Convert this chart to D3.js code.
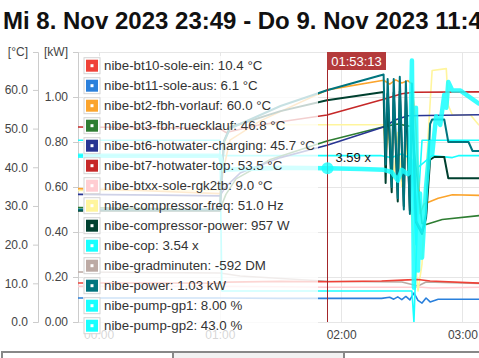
<!DOCTYPE html>
<html>
<head>
<meta charset="utf-8">
<script src="https://cdn.jsdelivr.net/npm/d3@7"></script>
<style>
body { margin: 0; background: #fff; overflow: hidden; font-family: "Liberation Sans", Arial, Helvetica, sans-serif; }
</style>
</head>
<body>
<script>
// values, [time, value]
const bt10SoleEin = [["23:49",10.1],["00:30",10.1],["01:00",10.0],["01:04",10.3],["01:30",10.5],["01:53",10.4],["02:20",10.6],["02:33",10.9],["02:38",11.0],["02:44",10.6],["03:10",10.0]];
const bt11SoleAus = [["23:49",6.2],["01:00",6.2],["01:30",6.1],["02:20",6.1],["02:24",6.4],["02:26",5.9],["02:28",6.5],["02:30",5.8],["02:32",6.6],["02:34",5.7],["02:36",7.5],["02:38",5.6],["02:40",4.9],["02:42",6.2],["02:44",5.2],["02:48",5.9],["03:10",5.9]];
const bt2Vorlauf = [["23:49",34.5],["00:20",34.0],["01:00",33.2],["01:02",40],["01:05",47],["01:20",52],["01:53",60.0],["02:21",62.5],["02:24",61.5],["02:27",62.6],["02:30",61.8],["02:33",62.4],["02:35",61.5],["02:37",50],["02:39",28],["02:41",30.5],["02:48",32.0],["02:55",32.9],["03:10",32.7]];
const bt3Ruecklauf = [["23:49",29.6],["00:30",29.3],["01:00",29.0],["01:03",33],["01:08",37],["01:25",42],["01:53",46.8],["02:21",50.5],["02:28",51.2],["02:35",50.5],["02:38",35],["02:40",25.5],["02:42",25.2],["02:50",26.5],["03:10",27.6]];
const bt6Charging = [["23:49",33.0],["00:30",32.8],["01:00",32.6],["01:03",35],["01:10",38.5],["01:30",42.5],["01:53",45.7],["02:21",50.4],["02:27",52.3],["02:33",53.3],["03:10",53.6]];
const bt7Top = [["23:49",50.4],["00:30",50.2],["01:00",50.0],["01:03",49.0],["01:20",51.0],["01:53",53.5],["02:21",57.6],["02:30",59.0],["02:36",59.4],["03:10",59.5]];
const btxxRgk2tb = [["23:49",9.2],["01:00",9.2],["01:30",9.1],["01:53",9.0],["02:40",9.0],["02:45",8.8],["03:10",9.0]];
const compFreq = [["23:49",34.0],["01:00",34.0],["01:02",45],["01:05",51.0],["02:21",51.0],["02:22",43],["02:24",50],["02:26",37],["02:28",49],["02:30",35],["02:32",47],["02:34",33],["02:36",20],["02:38",8],["02:40",15],["02:43",48],["02:45",65.0],["02:52",65.5],["02:53",56],["02:55",53.5],["03:04",53.5],["03:08",51.0]];
const compPower = [["23:49",480],["01:00",480],["01:02",780],["01:05",840],["01:30",910],["01:53",957],["02:21",992],["02:22",600],["02:23",985],["02:25",560],["02:26",990],["02:28",520],["02:29",995],["02:31",500],["02:32",990],["02:34",480],["02:35",985],["02:37",430],["02:40",380],["02:42",450],["02:44",700],["02:46",712],["02:51",712],["02:53",620],["03:10",620]];
const cop = [["23:49",3.88],["01:00",3.88],["01:02",3.55],["01:30",3.6],["01:53",3.59],["02:10",3.57],["02:21",3.55],["02:25",3.5],["02:28",3.3],["02:30",3.55],["02:33",3.45],["02:34",3.5],["02:35",6.1],["02:36",0.8],["02:37",5.0],["02:38",1.2],["02:39",3.0],["02:40",1.5],["02:42",3.15],["02:44",4.2],["02:45",3.9],["02:47",4.8],["02:49",4.6],["02:51",5.3],["02:52",5.0],["02:53",5.6],["02:55",5.4],["02:59",5.4],["03:08",5.1]];
const gradMinuten = [["23:49",-500],["01:00",-510],["01:10",-540],["01:53",-592],["02:30",-600],["02:38",-640],["02:42",-600],["03:10",-615]];
const power = [["23:49",0.50],["01:00",0.50],["01:02",0.80],["01:05",0.86],["01:30",0.96],["01:53",1.03],["02:21",1.10],["02:22",0.70],["02:23",1.08],["02:25",0.60],["02:26",1.08],["02:28",0.55],["02:29",1.09],["02:31",0.50],["02:32",1.07],["02:34",0.48],["02:35",1.06],["02:37",0.45],["02:40",0.40],["02:42",0.48],["02:44",0.88],["02:45",0.90],["02:51",0.90],["02:53",0.80],["03:03",0.80],["03:05",0.76],["03:10",0.76]];
const pumpGp1 = [["23:49",47],["01:00",47],["01:01",8],["02:35",8],["02:36",0],["02:38",30],["02:40",47],["03:10",47]];
const pumpGp2 = [["23:49",43],["01:02",43],["01:53",43.0],["02:20",43],["02:25",42.5],["02:30",43.5],["02:35",42],["02:37",20],["02:38",40],["02:45",43],["02:55",42.5],["02:58",43],["03:10",43]];

const seriesNames = ["nibe-bt10-sole-ein","nibe-bt11-sole-aus","nibe-bt2-fbh-vorlauf","nibe-bt3-fbh-ruecklauf","nibe-bt6-hotwater-charging","nibe-bt7-hotwater-top","nibe-btxx-sole-rgk2tb","nibe-compressor-freq","nibe-compressor-power","nibe-cop","nibe-gradminuten","nibe-power","nibe-pump-gp1","nibe-pump-gp2"];
const legendValues = ["10.4 °C","6.1 °C","60.0 °C","46.8 °C","45.7 °C","53.5 °C","9.0 °C","51.0 Hz","957 W","3.54 x","-592 DM","1.03 kW","8.00 %","43.0 %"];
const seriesData = [bt10SoleEin, bt11SoleAus, bt2Vorlauf, bt3Ruecklauf, bt6Charging, bt7Top, btxxRgk2tb, compFreq, compPower, cop, gradMinuten, power, pumpGp1, pumpGp2];
const seriesAxis = ["C","C","C","C","C","C","C","C","W","cop","DM","kW","C","C"];
const colors = ["#ef4238","#2a80dc","#fba42c","#2e7d32","#283593","#c62828","#ffcdd2","#fff59d","#00402f","#18ffff","#bcaaa4","#00757f","#18ffff","#18ffff"];

const tempTicks = [0, 10, 20, 30, 40, 50, 60];
const kwTicks = [0, 0.2, 0.4, 0.6, 0.8, 1.0];
const crossTime = "01:53:13";
const crossCop = 3.59;

const width = 479, height = 358;
const plotTop = 52, plotBottom = 322, plotLeft = 78;

const parseT = s => {
    const p = s.split(":").map(Number);
    return new Date(2023, 10, p[0] >= 12 ? 8 : 9, p[0], p[1], p[2] || 0);
};

const t0 = new Date(2023, 10, 8, 23, 49, 50);
const t1 = new Date(2023, 10, 9, 11, 49, 50);
const x = d3.scaleTime().domain([t0, t1]).range([plotLeft, plotLeft + 12 * 121.3]);
const yScales = {
    C: d3.scaleLinear().domain([0, 69.8]).range([plotBottom, plotTop]),
    kW: d3.scaleLinear().domain([0, 1.2]).range([plotBottom, plotTop]),
    W: d3.scaleLinear().domain([0, 1165]).range([plotBottom, plotTop]),
    cop: d3.scaleLinear().domain([0, 6.3]).range([plotBottom, plotTop]),
    DM: d3.scaleLinear().domain([-1000, 1700]).range([plotBottom, plotTop])
};

const svg = d3.select("body").append("svg")
    .attr("width", width)
    .attr("height", height)
    .style("display", "block");

svg.append("text")
    .attr("x", 3).attr("y", 29)
    .style("font-size", "24px").style("font-weight", "bold").attr("fill", "#111")
    .text("Mi 8. Nov 2023 23:49 - Do 9. Nov 2023 11:49");

// grid
const grid = svg.append("g").attr("stroke", "#e6e6e6").attr("stroke-width", 1);
grid.selectAll("line.h").data(kwTicks.concat([1.2])).join("line")
    .attr("x1", plotLeft).attr("x2", width)
    .attr("y1", d => Math.round(yScales.kW(d)) + 0.5).attr("y2", d => Math.round(yScales.kW(d)) + 0.5);
grid.selectAll("line.v").data(x.ticks(d3.timeHour.every(1))).join("line")
    .attr("y1", plotTop).attr("y2", plotBottom)
    .attr("x1", d => Math.round(x(d)) + 0.5).attr("x2", d => Math.round(x(d)) + 0.5);

// axes
const styleAxis = g => {
    g.select(".domain").attr("stroke", "#ccc");
    g.selectAll(".tick line").attr("stroke", "#ccc");
    g.selectAll("text").attr("fill", "#444").style("font-size", "12px").style("font-family", "inherit");
};
svg.append("g").attr("transform", "translate(38,0)")
    .call(d3.axisLeft(yScales.C).tickValues(tempTicks).tickFormat(d3.format(".1f")).tickSize(5).tickPadding(5))
    .call(styleAxis);
svg.append("g").attr("transform", `translate(${plotLeft},0)`)
    .call(d3.axisLeft(yScales.kW).tickValues(kwTicks).tickFormat(d3.format(".2f")).tickSize(5).tickPadding(5))
    .call(styleAxis);
svg.append("g").attr("transform", `translate(0,${plotBottom})`)
    .call(d3.axisBottom(x).ticks(d3.timeHour.every(1)).tickFormat(d3.timeFormat("%H:%M")).tickSize(0).tickPadding(8.5))
    .call(g => g.select(".domain").remove())
    .call(styleAxis);
svg.append("g").style("font-size", "12px").attr("fill", "#444").attr("text-anchor", "end")
    .selectAll("text").data([["[°C]", 28], ["[kW]", 68]]).join("text")
    .attr("x", d => d[1]).attr("y", plotTop).attr("dy", "0.32em").text(d => d[0]);

// lines
svg.append("clipPath").attr("id", "plot")
    .append("rect").attr("x", plotLeft).attr("y", plotTop).attr("width", width).attr("height", plotBottom - plotTop);

const order = [6, 10, 7, 0, 1, 12, 13, 2, 3, 4, 5, 8, 11, 9];
const lines = svg.append("g").attr("clip-path", "url(#plot)").attr("fill", "none")
    .attr("stroke-linejoin", "round").attr("stroke-linecap", "round");
order.forEach(i => {
    const y = yScales[seriesAxis[i]];
    const line = d3.line().x(d => x(parseT(d[0]))).y(d => y(d[1]));
    lines.append("path")
        .attr("d", line(seriesData[i]))
        .attr("stroke", colors[i])
        .attr("stroke-width", i === 9 ? 4.5 : (i === 8 || i === 11 ? 2 : 1.6))
        .attr("stroke-opacity", i === 9 ? 0.85 : 1);
});

// legend (semi-transparent box over the plot)
const legend = svg.append("g").attr("transform", `translate(${plotLeft + 5},56)`);
legend.append("rect").attr("width", 235).attr("height", 285).attr("fill", "rgba(255,255,255,0.78)");
const row = legend.selectAll("g").data(seriesNames).join("g")
    .attr("transform", (d, i) => `translate(1,${1.7 + 20 * i})`);
row.append("rect").attr("width", 16).attr("height", 16).attr("fill", "#fff").attr("stroke", "#d4d4d4");
row.append("rect").attr("x", 2).attr("y", 2).attr("width", 12).attr("height", 12).attr("fill", (d, i) => colors[i]);
row.append("rect").attr("x", 6.5).attr("y", 6.5).attr("width", 3).attr("height", 3).attr("fill", "#fff");
row.append("text").attr("x", 20).attr("y", 8).attr("dy", "0.35em")
    .style("font-size", "13.3px").attr("fill", "#333")
    .text((d, i) => d + ": " + legendValues[i]);

// crosshair
const cx = Math.round(x(parseT(crossTime))) + 0.5;
svg.append("line").attr("x1", cx).attr("x2", cx).attr("y1", plotTop).attr("y2", plotBottom)
    .attr("stroke", "#a3262a").attr("stroke-width", 1);
svg.append("rect").attr("x", cx - 0.5).attr("y", plotTop).attr("width", 59).attr("height", 18).attr("fill", "#b43a3b");
svg.append("text").attr("x", cx + 29).attr("y", plotTop + 9).attr("dy", "0.35em").attr("text-anchor", "middle")
    .style("font-size", "13px").attr("fill", "#fff").text(crossTime);
svg.append("circle").attr("cx", cx).attr("cy", yScales.cop(crossCop)).attr("r", 6)
    .attr("fill", "#18ffff").attr("fill-opacity", 0.8);
svg.append("text").attr("x", cx + 8).attr("y", yScales.cop(crossCop) - 11).attr("dy", "0.35em")
    .style("font-size", "13px").attr("fill", "#111").text(crossCop.toFixed(2) + " x");

// button row at the bottom
svg.append("g").selectAll("rect").data([0, 1, 2]).join("rect")
    .attr("x", d => 2 + d * 171).attr("y", 352).attr("width", 171).attr("height", 20)
    .attr("fill", d => d === 1 ? "#f2f2f2" : "#fff").attr("stroke", "#888").attr("stroke-width", 2);
</script>
</body>
</html>
